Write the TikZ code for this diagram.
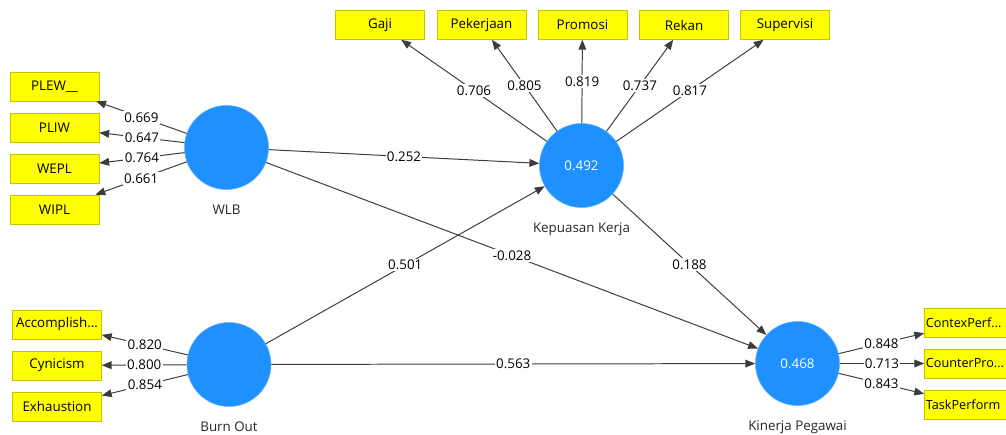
\documentclass[tikz,border=0pt]{standalone}
\usepackage{fontspec}
\setmainfont{Open Sans}
\usetikzlibrary{arrows.meta,positioning}

\definecolor{latentblue}{RGB}{30,144,255}
\definecolor{itemyellow}{RGB}{255,255,0}
\definecolor{itemborder}{RGB}{196,196,0}
\definecolor{linkgray}{RGB}{60,60,60}

\begin{document}
\begin{tikzpicture}[x=0.025cm, y=-0.025cm,
        font=\fontsize{9.5}{11}\selectfont,
        latent/.style={circle, fill=latentblue, draw=latentblue!70, minimum size=2.1cm, inner sep=0pt, text=white},
        item/.style={rectangle, fill=itemyellow, draw=itemborder, minimum width=2.225cm, minimum height=0.725cm, inner sep=0pt},
        itemleft/.style={item, inner xsep=1pt, text width=2.225cm-2pt, align=left, font=\fontsize{9}{11}\selectfont},
        link/.style={draw=linkgray, line width=0.7pt, -{Triangle[length=7pt,width=5.5pt]}},
        coef/.style={fill=white, inner sep=1pt, pos=0.5},
        caption/.style={text=black!85}]
        \clip (0, 0) rectangle (1006, 434);

        % Latent variables
        \node [latent] (wlb) at (226.5, 147.5) {};
        \node [latent] (kk) at (581.5, 165.5) {0.492};
        \node [latent] (bo) at (229, 364.5) {};
        \node [latent] (kp) at (797.5, 363.5) {0.468};
        \node [caption, below=2.5mm of wlb] (wlbtxt) {WLB};
        \node [caption, below=2.5mm of kk] (kktxt) {Kepuasan Kerja};
        \node [caption, below=2.5mm of bo] (botxt) {Burn Out};
        \node [caption, below=2.5mm of kp] (kptxt) {Kinerja Pegawai};

        % Indicators of WLB
        \node [item] (plew) at (54.5, 86.5) {PLEW\_\_};
        \node [item] (pliw) at (54.5, 127.5) {PLIW};
        \node [item] (wepl) at (54.5, 168.5) {WEPL};
        \node [item] (wipl) at (54.5, 209.5) {WIPL};

        % Indicators of Kepuasan Kerja
        \node [item] (gaji) at (380, 25) {Gaji};
        \node [item] (pekerjaan) at (481.5, 25) {Pekerjaan};
        \node [item] (promosi) at (582.5, 25) {Promosi};
        \node [item] (rekan) at (684, 25) {Rekan};
        \node [item] (supervisi) at (785, 25) {Supervisi};

        % Indicators of Burn Out
        \node [item] (accomplish) at (57, 324.5) {Accomplish...};
        \node [item] (cynicism) at (57, 365.5) {Cynicism};
        \node [item] (exhaustion) at (57, 406.5) {Exhaustion};

        % Indicators of Kinerja Pegawai
        \node [itemleft] (contex) at (969, 322.5) {ContexPerf...};
        \node [itemleft] (counter) at (969, 363.5) {CounterPro...};
        \node [itemleft] (task) at (969, 404.5) {TaskPerform};

        % Outer loadings
        \draw [link] (wlb) -- node [coef] {0.669} (plew);
        \draw [link] (wlb) -- node [coef] {0.647} (pliw);
        \draw [link] (wlb) -- node [coef] {0.764} (wepl);
        \draw [link] (wlb) -- node [coef] {0.661} (wipl);
        \draw [link] (kk) -- node [coef] {0.706} (gaji);
        \draw [link] (kk) -- node [coef] {0.805} (pekerjaan);
        \draw [link] (kk) -- node [coef] {0.819} (promosi);
        \draw [link] (kk) -- node [coef] {0.737} (rekan);
        \draw [link] (kk) -- node [coef] {0.817} (supervisi);
        \draw [link] (bo) -- node [coef] {0.820} (accomplish);
        \draw [link] (bo) -- node [coef] {0.800} (cynicism);
        \draw [link] (bo) -- node [coef] {0.854} (exhaustion);
        \draw [link] (kp) -- node [coef] {0.848} (contex);
        \draw [link] (kp) -- node [coef] {0.713} (counter);
        \draw [link] (kp) -- node [coef] {0.843} (task);

        % Path coefficients
        \draw [link] (wlb) -- node [coef] {0.252} (kk);
        \draw [link] (wlb) -- node [coef] {-0.028} (kp);
        \draw [link] (bo) -- node [coef] {0.501} (kk);
        \draw [link] (kk) -- node [coef] {0.188} (kp);
        \draw [link] (bo) -- node [coef] {0.563} (kp);
\end{tikzpicture}
\end{document}
